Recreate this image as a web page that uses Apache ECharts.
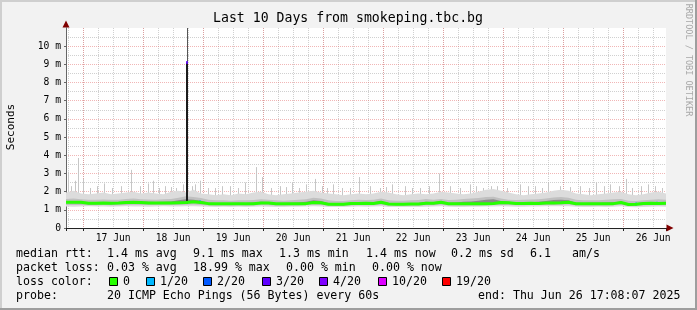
<!DOCTYPE html>
<html><head><meta charset="utf-8">
<script src="https://cdn.jsdelivr.net/npm/echarts@6/dist/echarts.min.js"></script>
<style>html,body{margin:0;padding:0;background:#f2f2f2}#c{width:697px;height:310px}</style>
</head><body><div id="c"></div>
<script>
// ---- data (hours since start = Jun 16 17:08:07, one sample every 3 h) ----
const STEP_H = 3;
const startDays = 17.13528 / 24;          // start, in days since Jun 16 00:00
const dayLabels = ['17 Jun','18 Jun','19 Jun','20 Jun','21 Jun','22 Jun','23 Jun','24 Jun','25 Jun','26 Jun'];
const yLabels = ['0','1 m','2 m','3 m','4 m','5 m','6 m','7 m','8 m','9 m','10 m'];

const medianRtt = [1.42,1.42,1.41,1.36,1.36,1.37,1.36,1.37,1.40,1.41,1.40,
  1.38,1.37,1.38,1.38,1.39,1.40,1.44,1.40,1.34,1.33,
  1.33,1.33,1.34,1.33,1.34,1.38,1.37,1.33,1.33,1.34,
  1.33,1.34,1.40,1.39,1.31,1.30,1.30,1.35,1.35,1.36,
  1.35,1.42,1.32,1.31,1.31,1.32,1.32,1.36,1.36,1.42,
  1.33,1.33,1.34,1.33,1.33,1.34,1.35,1.40,1.39,1.35,
  1.35,1.36,1.35,1.38,1.38,1.39,1.42,1.33,1.33,1.34,
  1.33,1.33,1.34,1.40,1.29,1.30,1.35,1.36,1.35,1.36];
const smokeMin = [1.18,1.17,1.18,1.19,1.18,1.18,1.17,1.18,1.19,1.18,1.18,
  1.17,1.18,1.19,1.18,1.18,1.19,1.2,1.18,1.17,1.16,
  1.17,1.16,1.17,1.16,1.17,1.18,1.17,1.16,1.16,1.17,
  1.17,1.18,1.19,1.18,1.16,1.15,1.15,1.17,1.18,1.17,
  1.18,1.19,1.16,1.15,1.15,1.16,1.16,1.17,1.18,1.19,
  1.17,1.16,1.16,1.17,1.17,1.18,1.18,1.19,1.18,1.17,
  1.17,1.18,1.18,1.19,1.19,1.2,1.19,1.17,1.16,1.16,
  1.17,1.16,1.17,1.19,1.15,1.14,1.16,1.17,1.18,1.17];
const smokeMax = [1.95,2.05,1.9,1.85,1.9,1.95,1.85,1.9,1.95,2.0,1.9,
  1.95,1.9,1.85,2.0,2.05,1.95,2.1,1.9,1.85,1.8,
  1.85,1.8,1.9,1.85,1.95,2.0,1.85,1.8,1.85,1.9,
  1.95,2.0,2.05,1.95,1.9,1.85,1.8,1.85,1.9,1.85,
  1.9,2.0,1.95,1.85,1.8,1.85,1.9,1.85,1.9,2.0,
  1.95,1.9,1.85,1.9,2.0,2.1,2.15,2.05,1.95,1.85,
  1.8,1.85,1.9,1.95,2.05,2.1,2.05,1.9,1.85,1.8,
  1.85,1.9,1.95,2.0,1.85,1.8,1.85,1.95,2.0,1.9];
const smokeMidLow = [1.27,1.27,1.26,1.25,1.25,1.26,1.25,1.25,1.27,1.28,1.27,
  1.26,1.26,1.26,1.27,1.27,1.28,1.29,1.27,1.24,1.23,
  1.23,1.23,1.24,1.23,1.24,1.26,1.25,1.23,1.23,1.24,
  1.24,1.27,1.28,1.27,1.22,1.21,1.21,1.24,1.25,1.25,
  1.25,1.28,1.23,1.22,1.22,1.23,1.23,1.25,1.25,1.28,
  1.24,1.24,1.24,1.24,1.24,1.25,1.26,1.27,1.27,1.25,
  1.25,1.26,1.26,1.27,1.27,1.28,1.29,1.24,1.24,1.24,
  1.24,1.24,1.25,1.28,1.21,1.21,1.24,1.25,1.25,1.25];
const smokeMidHigh = [1.6,1.62,1.58,1.55,1.56,1.57,1.55,1.56,1.6,1.62,1.58,
  1.57,1.56,1.58,1.6,1.66,1.75,1.7,1.65,1.55,1.52,
  1.52,1.5,1.53,1.52,1.54,1.58,1.56,1.52,1.5,1.53,
  1.55,1.58,1.66,1.62,1.52,1.48,1.48,1.53,1.55,1.54,
  1.56,1.62,1.52,1.5,1.5,1.52,1.54,1.6,1.56,1.6,
  1.54,1.55,1.6,1.62,1.65,1.7,1.72,1.62,1.56,1.54,
  1.55,1.57,1.58,1.62,1.68,1.7,1.66,1.55,1.52,1.52,
  1.53,1.55,1.58,1.6,1.5,1.48,1.52,1.55,1.58,1.56];
const smokeCoreLow = [1.36,1.36,1.35,1.31,1.31,1.32,1.31,1.32,1.35,1.36,1.35,
  1.33,1.32,1.33,1.33,1.34,1.35,1.38,1.35,1.29,1.28,
  1.28,1.28,1.29,1.28,1.29,1.33,1.32,1.28,1.28,1.29,
  1.28,1.29,1.35,1.34,1.26,1.25,1.25,1.3,1.3,1.31,
  1.3,1.37,1.27,1.26,1.26,1.27,1.27,1.31,1.31,1.37,
  1.28,1.28,1.29,1.28,1.28,1.29,1.3,1.35,1.34,1.3,
  1.3,1.31,1.3,1.33,1.33,1.34,1.37,1.28,1.28,1.29,
  1.28,1.28,1.29,1.35,1.24,1.25,1.3,1.31,1.3,1.31];
const smokeCoreHigh = [1.47,1.47,1.46,1.41,1.41,1.42,1.41,1.42,1.46,1.47,1.46,
  1.44,1.43,1.44,1.46,1.52,1.58,1.56,1.5,1.39,1.38,
  1.38,1.38,1.39,1.38,1.4,1.44,1.43,1.38,1.38,1.39,
  1.4,1.44,1.52,1.48,1.36,1.35,1.35,1.4,1.41,1.41,
  1.41,1.48,1.37,1.36,1.36,1.37,1.38,1.45,1.42,1.48,
  1.39,1.4,1.44,1.46,1.5,1.56,1.58,1.48,1.45,1.41,
  1.41,1.42,1.44,1.48,1.54,1.56,1.52,1.39,1.38,1.39,
  1.39,1.4,1.42,1.46,1.35,1.36,1.41,1.42,1.43,1.42];
// single-ping outliers (thin smoke spikes): hour since start, top value (ms)
const spikeHours = [0.8,2.0,3.6,4.8,6.8,9.6,12.4,15.2,18.4,22.0,26.0,29.6,32.8,34.8,37.2,39.6,42.0,44.0,46.8,
  50.4,51.6,53.6,56.8,59.6,62.4,65.6,68.8,71.6,76.0,78.4,82.0,85.6,88.0,90.4,93.2,96.0,99.6,102.4,104.4,106.8,110.4,
  113.6,117.2,121.6,125.6,128.0,130.4,135.6,138.4,141.6,145.2,149.2,153.6,157.6,161.6,164.0,166.8,170.0,172.4,
  176.4,181.6,184.8,187.6,190.4,192.8,197.6,201.6,205.6,209.2,212.0,215.2,217.6,221.2,224.0,226.4,230.0,232.8,235.6,238.4];
const spikeTops = [3.1,2.3,2.6,3.85,2.7,2.2,2.3,2.45,2.2,2.3,3.2,2.3,2.45,2.6,2.2,2.3,2.25,2.2,2.4,
  2.3,2.4,2.6,2.2,2.2,2.3,2.3,2.2,2.5,3.35,2.8,2.2,2.3,2.25,2.5,2.2,2.4,2.7,2.3,2.2,2.4,2.2,
  2.2,2.8,2.3,2.2,2.25,2.4,2.3,2.2,2.2,2.3,3.0,2.3,2.2,2.4,2.3,2.2,2.3,2.3,
  2.2,2.4,2.3,2.3,2.2,2.5,2.3,2.25,2.3,2.2,2.5,2.3,2.4,2.3,2.7,2.2,2.3,2.4,2.3,2.2];
// the big event on 18 Jun
const eventHour = [48.4];
const eventLow = [1.35];
const eventMedian = [9.1];
const eventHigh = [11];
// loss-coloured median samples
const lossHours = [48.4, 53.6, 228.0, 236.4];
const lossValues = [9.1, 1.44, 1.32, 1.36];
const lossLevels = [3, 1, 1, 1];
const lossColors = ['#26ff00','#00b8ff','#0059ff','#5e00ff','#7e00ff','#dd00ff','#ff0000'];
const lossLabels = ['0','1/20','2/20','3/20','4/20','10/20','19/20'];

// ---- build ----
const MONO = "'DejaVu Sans Mono', monospace";
const xs = medianRtt.map((_, i) => i * STEP_H);
const pts = arr => arr.map((v, i) => [xs[i], v]);

// a smoke band: one polygon between a low and a high curve, drawn through the axes
function bandSeries(name, lo, hi, color) {
  return {
    type: 'custom', name: name, xAxisIndex: 3, yAxisIndex: 1, silent: true,
    data: xs.map((x, i) => [x, lo[i], hi[i]]), encode: { x: 0, y: [1, 2] },
    renderItem: (params, api) => {
      if (params.dataIndex !== 0) return null;
      const top = xs.map((x, i) => api.coord([x, hi[i]]));
      const bot = xs.map((x, i) => api.coord([x, lo[i]])).reverse();
      return { type: 'polygon', shape: { points: top.concat(bot) }, style: { fill: color } };
    }
  };
}
const gridRed = 'rgba(228,110,110,0.5)';
const gridGray = 'rgba(150,150,150,0.45)';

const legendLines = [
  { y: 254, items: [[16,'median rtt:'],[107,'1.4 ms avg'],[193,'9.1 ms max'],[279,'1.3 ms min'],[366,'1.4 ms now'],[451,'0.2 ms sd'],[530,'6.1'],[572,'am/s']] },
  { y: 268, items: [[16,'packet loss:'],[107,'0.03 % avg'],[193,'18.99 % max'],[286,'0.00 % min'],[372,'0.00 % now']] },
  { y: 282, items: [[16,'loss color:']] },
  { y: 296, items: [[16,'probe:'],[107,'20 ICMP Echo Pings (56 Bytes) every 60s'],[478,'end: Thu Jun 26 17:08:07 2025']] }
];
const boxX = [109,146,203,262,319,378,442];
const graphics = [];
legendLines.forEach(l => l.items.forEach(([x, t]) => graphics.push({
  type: 'text', x: x, y: l.y, silent: true,
  style: { text: t, font: '11.6px ' + MONO, fill: '#000', align: 'left', verticalAlign: 'middle' } })));
lossLabels.forEach((lab, i) => {
  graphics.push({ type: 'rect', shape: { x: boxX[i] + 0.5, y: 277.5, width: 8, height: 8 },
    style: { fill: lossColors[i], stroke: '#000', lineWidth: 1 }, silent: true });
  graphics.push({ type: 'text', x: boxX[i] + 14, y: 282, silent: true,
    style: { text: lab, font: '11.6px ' + MONO, fill: '#000', align: 'left', verticalAlign: 'middle' } });
});
graphics.push(
  { type: 'text', x: 348, y: 19, silent: true, style: { text: 'Last 10 Days from smokeping.tbc.bg', font: '13.2px ' + MONO, fill: '#000', align: 'center', verticalAlign: 'middle' } },
  { type: 'text', x: 11, y: 127, rotation: Math.PI / 2, silent: true, style: { text: 'Seconds', font: '11px ' + MONO, fill: '#000', align: 'center', verticalAlign: 'middle' } },
  { type: 'text', x: 688, y: 60, rotation: -Math.PI / 2, silent: true, style: { text: 'RRDTOOL / TOBI OETIKER', font: '8.5px ' + MONO, fill: '#a8a8a8', align: 'center', verticalAlign: 'middle' } },
  { type: 'rect', shape: { x: 0, y: 0, width: 697, height: 2 }, style: { fill: '#cfcfcf' }, silent: true },
  { type: 'rect', shape: { x: 0, y: 0, width: 2, height: 310 }, style: { fill: '#cfcfcf' }, silent: true },
  { type: 'rect', shape: { x: 695, y: 0, width: 2, height: 310 }, style: { fill: '#9e9e9e' }, silent: true },
  { type: 'rect', shape: { x: 0, y: 308, width: 697, height: 2 }, style: { fill: '#9e9e9e' }, silent: true }
);

const option = {
  animation: false,
  backgroundColor: '#f2f2f2',
  grid: { left: 66, top: 28, width: 600, height: 200, show: true, backgroundColor: '#ffffff', borderWidth: 0 },
  xAxis: [
    { // 6-hour minor grid, unit = quarter days since Jun 16 00:00
      type: 'value', position: 'bottom', min: startDays * 4, max: startDays * 4 + 40, splitNumber: 40, minInterval: 1, maxInterval: 1, z: 0,
      axisLine: { show: false }, axisTick: { show: false }, axisLabel: { show: false },
      splitLine: { show: true, showMinLine: false, showMaxLine: false, lineStyle: { color: gridGray, type: [1, 1], width: 1 } } },
    { // midnight major grid + arrow, unit = days since Jun 16 00:00
      type: 'value', position: 'bottom', min: startDays, max: startDays + 10, splitNumber: 10, minInterval: 1, maxInterval: 1, z: 0,
      axisLine: { show: true, onZero: false, symbol: ['none', 'triangle'], symbolSize: [7, 7], symbolOffset: [0, 4], lineStyle: { color: '#800000', width: 1 } },
      axisTick: { show: true, length: 3, lineStyle: { color: '#222' } }, axisLabel: { show: false },
      splitLine: { show: true, showMinLine: false, showMaxLine: false, lineStyle: { color: gridRed, type: [1, 1], width: 1 } } },
    { // day labels at noon, unit = days since Jun 16 12:00
      type: 'value', position: 'bottom', min: startDays - 0.5, max: startDays + 9.5, splitNumber: 10, minInterval: 1, maxInterval: 1,
      axisLine: { show: false }, axisTick: { show: false }, splitLine: { show: false },
      axisLabel: { show: true, showMinLabel: false, showMaxLabel: false, margin: 5, color: '#000', fontFamily: MONO, fontSize: 9.7,
        formatter: v => dayLabels[Math.round(v) - 1] || '' } },
    { // data axis, hours since start
      type: 'value', position: 'bottom', min: 0, max: 240, z: 1,
      axisLine: { show: true, onZero: false, lineStyle: { color: '#222', width: 1 } },
      axisTick: { show: false }, axisLabel: { show: false }, splitLine: { show: false } }
  ],
  yAxis: [
    { type: 'value', position: 'left', min: 0, max: 11, interval: 1, z: 0,
      axisLine: { show: true, onZero: false, symbol: ['none', 'triangle'], symbolSize: [7, 7], symbolOffset: [0, 4], lineStyle: { color: '#800000' } },
      axisTick: { show: false }, axisLabel: { show: false }, splitLine: { show: false } },
    { type: 'value', position: 'left', min: 0, max: 11, interval: 1, z: 1,
      axisLine: { show: true, onZero: false, lineStyle: { color: '#666' } },
      axisTick: { show: true, length: 2, lineStyle: { color: '#666' } },
      axisLabel: { margin: 5, color: '#000', fontFamily: MONO, fontSize: 9.7, showMaxLabel: false, formatter: v => yLabels[v] || '' },
      splitLine: { show: true, showMinLine: false, showMaxLine: false, lineStyle: { color: gridRed, type: [1, 1] } },
      minorTick: { show: false, splitNumber: 2 },
      minorSplitLine: { show: true, lineStyle: { color: gridGray, type: [1, 1] } } }
  ],
  series: [
    { type: 'custom', name: 'outliers', xAxisIndex: 3, yAxisIndex: 1, silent: true,
      data: spikeHours.map((h, i) => [h, 1.5, spikeTops[i]]), encode: { x: 0, y: [1, 2] },
      renderItem: (p, api) => {
        const a = api.coord([api.value(0), api.value(1)]), b = api.coord([api.value(0), api.value(2)]);
        const x = Math.round(a[0]) + 0.5;
        return { type: 'line', shape: { x1: x, y1: a[1], x2: x, y2: b[1] }, style: { stroke: '#c6c6c6', lineWidth: 1 } };
      } },
    bandSeries('smokeOuter', smokeMin, smokeMax, '#dcdcdc'),
    bandSeries('smokeMid', smokeMidLow, smokeMidHigh, '#c0c0c0'),
    bandSeries('smokeCore', smokeCoreLow, smokeCoreHigh, '#8a8a8a'),
    { type: 'custom', name: 'event', xAxisIndex: 3, yAxisIndex: 1, silent: true,
      data: eventHour.map((h, i) => [h, eventLow[i], eventMedian[i], eventHigh[i]]), encode: { x: 0, y: [1, 2, 3] },
      renderItem: (p, api) => {
        const lo = api.coord([api.value(0), api.value(1)]), md = api.coord([api.value(0), api.value(2)]), hi = api.coord([api.value(0), api.value(3)]);
        const x = Math.round(lo[0]);
        return { type: 'group', children: [
          { type: 'line', shape: { x1: x + 0.5, y1: md[1], x2: x + 0.5, y2: hi[1] }, style: { stroke: '#555', lineWidth: 1 } },
          { type: 'line', shape: { x1: x, y1: lo[1], x2: x, y2: md[1] }, style: { stroke: '#1c1c1c', lineWidth: 2 } }
        ] };
      } },
    { type: 'line', name: 'median', xAxisIndex: 3, yAxisIndex: 1, data: pts(medianRtt), symbol: 'none', silent: true,
      lineStyle: { color: lossColors[0], width: 3 } },
    { type: 'scatter', name: 'loss', xAxisIndex: 3, yAxisIndex: 1, silent: true, symbol: 'rect', symbolSize: [2, 3],
      data: lossHours.map((h, i) => ({ value: [h, lossValues[i]], itemStyle: { color: lossColors[lossLevels[i]] } })) }
  ],
  graphic: graphics
};
const chart = echarts.init(document.getElementById('c'), null, { renderer: 'canvas' });
chart.setOption(option);
</script></body></html>
